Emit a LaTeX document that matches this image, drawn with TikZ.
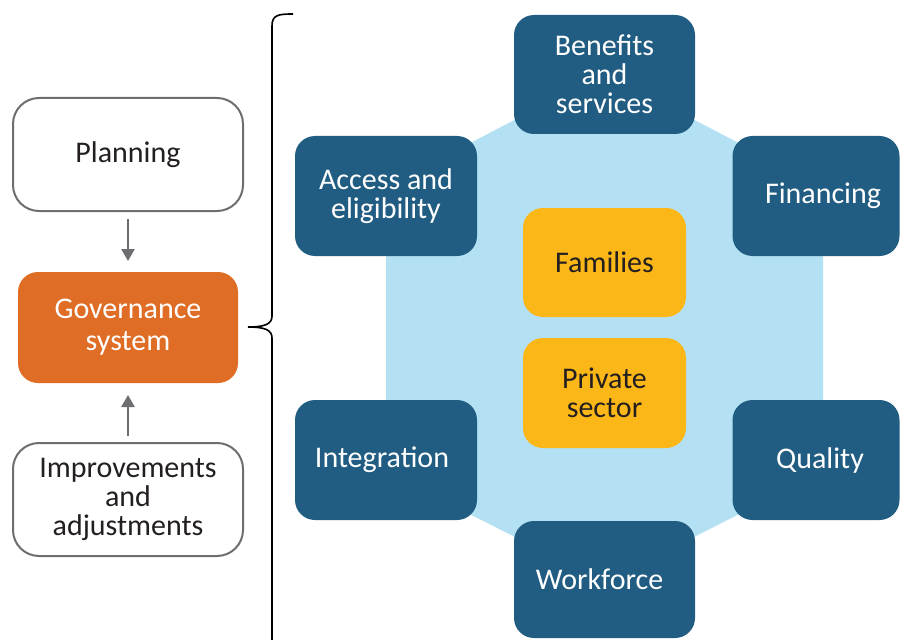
\documentclass[tikz,border=0pt]{standalone}
\usepackage{fontspec}
\setmainfont{Carlito}
\usetikzlibrary{arrows.meta}
\definecolor{navy}{HTML}{215D82}
\definecolor{skyfill}{HTML}{B3E1F3}
\definecolor{govorange}{HTML}{E06D26}
\definecolor{gold}{HTML}{FBB717}
\definecolor{edgegray}{HTML}{6D6E71}
\definecolor{inkdark}{HTML}{231F20}
\tikzset{
  base/.style={align=center, inner sep=0pt, font=\fontsize{30}{29}\selectfont},
  pillar/.style={base, fill=navy, text=white, rounded corners=20pt},
  actor/.style={base, fill=gold, text=inkdark, rounded corners=20pt,
                minimum width=163pt},
  stage/.style={base, draw=edgegray, line width=2pt, fill=white, text=inkdark,
                rounded corners=26pt, minimum width=230pt, minimum height=113pt},
  flow/.style={draw=edgegray, line width=2.5pt,
               -{Triangle[length=12pt,width=13pt]}},
}
\begin{document}
\begin{tikzpicture}[x=1pt,y=-1pt]
\useasboundingbox (0,0) rectangle (901,639);

% background hexagon
\fill[skyfill] (604.5,73) -- (823,187) -- (823,472) -- (604.5,582)
  -- (386,472) -- (386,187) -- cycle;

% outer ring of policy areas
\node[pillar, minimum width=181pt, minimum height=119pt] (bene) at (604.5,74.5)
  {Benefits\\and\\services};
\node[pillar, minimum width=182pt, minimum height=120pt] (access) at (386,196)
  {Access and\\eligibility};
\node[pillar, minimum width=167pt, minimum height=120pt] (fin) at (816,196)
  {\hspace*{14pt}\raisebox{-3pt}{Financing}};
\node[pillar, minimum width=182pt, minimum height=120pt] (integ) at (386,460)
  {\raisebox{-1pt}{Integration}\hspace*{8pt}};
\node[pillar, minimum width=167pt, minimum height=120pt] (qual) at (816,460)
  {\hspace*{8pt}\raisebox{-3pt}{Quality}};
\node[pillar, minimum width=181pt, minimum height=117pt] (work) at (604.5,579.5)
  {\raisebox{-3pt}{Workforce}\hspace*{10pt}};

% centre actors
\node[actor, minimum height=109pt] (fam) at (604.5,262.5) {Families};
\node[actor, minimum height=110pt] (priv) at (604.5,393) {Private\\sector};

% left-hand cycle
\node[stage] (plan) at (128,154.5) {\raisebox{-2pt}{Planning}};
\node[base, fill=govorange, text=white, rounded corners=20pt,
      minimum width=220pt, minimum height=111pt] (gov) at (128,327.5)
  {Governance\\[3pt]system};
\node[stage] (impr) at (128,499.5) {Improvements\\and\\adjustments};

\draw[flow] (plan.south) ++(0,7) coordinate (pa) (pa) -- (gov.north |- 0,261);
\draw[flow] (impr.south |- 0,436) coordinate (ia) (ia) -- (gov.south |- 0,395);

% brace from the governance system to the ring
\coordinate (tip) at (248,327);
\draw[black, line width=1.6pt]
  (293,14) .. controls (278,14) and (272,15) .. (272,26)
  -- (272,316) .. controls (272,324) and (265,327) .. (tip)
  (tip) .. controls (265,327) and (272,330) .. (272,338)
  -- (272,645);
\end{tikzpicture}
\end{document}
